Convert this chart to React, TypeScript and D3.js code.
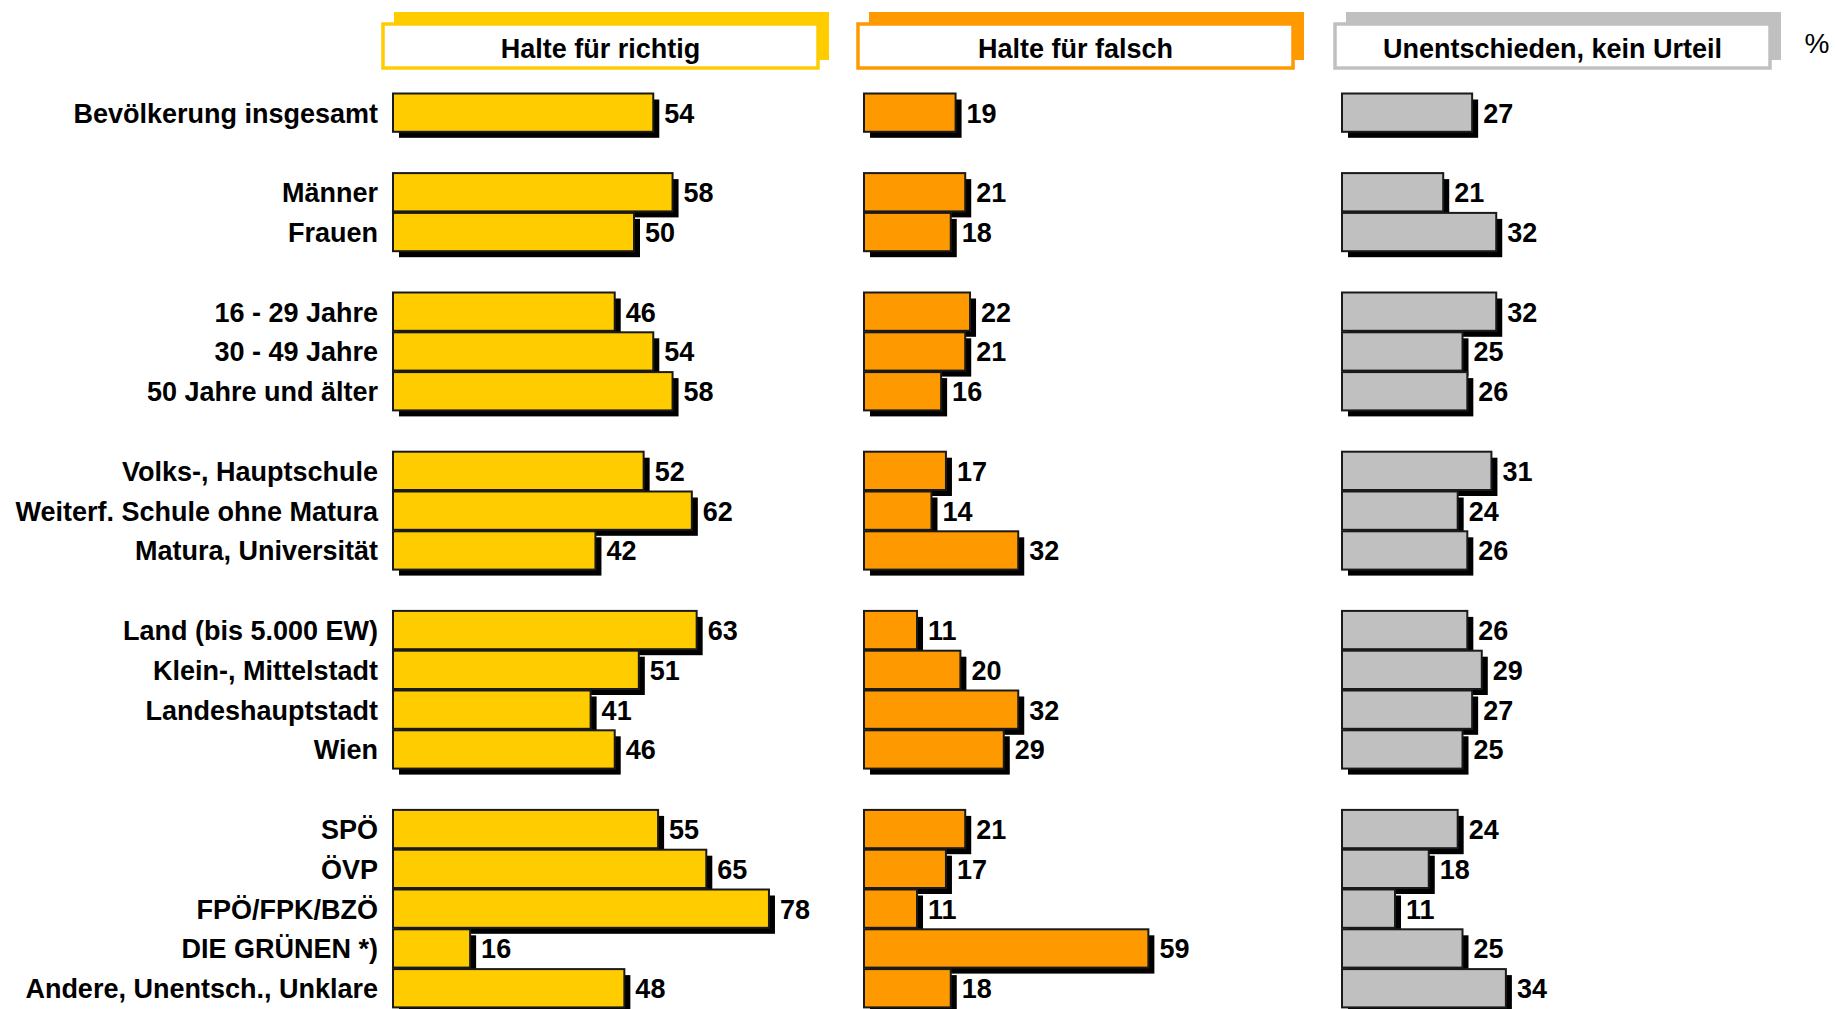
import React from "react";
import * as d3 from "d3";

const categories = [
  "Bevölkerung insgesamt",
  "Männer",
  "Frauen",
  "16 - 29 Jahre",
  "30 - 49 Jahre",
  "50 Jahre und älter",
  "Volks-, Hauptschule",
  "Weiterf. Schule ohne Matura",
  "Matura, Universität",
  "Land (bis 5.000 EW)",
  "Klein-, Mittelstadt",
  "Landeshauptstadt",
  "Wien",
  "SPÖ",
  "ÖVP",
  "FPÖ/FPK/BZÖ",
  "DIE GRÜNEN *)",
  "Andere, Unentsch., Unklare",
];
const groups = [0, 1, 1, 2, 2, 2, 3, 3, 3, 4, 4, 4, 4, 5, 5, 5, 5, 5];
const richtig = [54, 58, 50, 46, 54, 58, 52, 62, 42, 63, 51, 41, 46, 55, 65, 78, 16, 48];
const falsch = [19, 21, 18, 22, 21, 16, 17, 14, 32, 11, 20, 32, 29, 21, 17, 11, 59, 18];
const unentschieden = [27, 21, 32, 32, 25, 26, 31, 24, 26, 26, 29, 27, 25, 24, 18, 11, 25, 34];
const seriesNames = ["Halte für richtig", "Halte für falsch", "Unentschieden, kein Urteil"];
const seriesColors = ["#FFCC00", "#FF9900", "#C0C0C0"];
const unitLabel = "%";

const W = 1836;
const H = 1009;
const FONT = "'Liberation Sans', Arial, sans-serif";

export default function App() {
  const series = [richtig, falsch, unentschieden];
  const panelX = [393, 864, 1342];
  const headerX = [383, 858, 1335];
  const x = d3.scaleLinear().domain([0, 100]).range([0, 482]);
  const slots = categories.map((_, i) => i + groups[i]);
  const nSlots = d3.max(slots)! + 1;
  const y = d3
    .scaleBand<number>()
    .domain(d3.range(nSlots))
    .range([93, 93 + nSlots * 39.8])
    .paddingInner(0);
  const bh = y.bandwidth() - 1.5;
  const shadow = 6;
  const fs = 27;

  return (
    <svg
      width={W}
      height={H}
      style={{ position: "absolute", left: 0, top: 0, background: "#fff" }}
      fontFamily={FONT}
    >
      {/* headers */}
      {seriesNames.map((name, s) => {
        const bx = headerX[s];
        const bw = 435;
        return (
          <g key={name}>
            <rect x={bx + 11} y={12} width={bw} height={48} fill={seriesColors[s]} />
            <rect
              x={bx}
              y={24}
              width={bw}
              height={44}
              fill="#fff"
              stroke={seriesColors[s]}
              strokeWidth={3.5}
            />
            <text
              x={bx + bw / 2}
              y={48}
              dy="0.36em"
              textAnchor="middle"
              fontWeight="bold"
              fontSize={fs}
              fill="#000"
            >
              {name}
            </text>
          </g>
        );
      })}
      <text x={1817} y={43} dy="0.36em" textAnchor="middle" fontSize={28} fill="#000">
        {unitLabel}
      </text>

      {/* category labels */}
      {categories.map((c, i) => (
        <text
          key={c}
          x={378}
          y={y(slots[i])! + y.bandwidth() / 2}
          dy="0.36em"
          textAnchor="end"
          fontWeight="bold"
          fontSize={fs}
          fill="#000"
        >
          {c}
        </text>
      ))}

      {/* bars */}
      {series.map((vals, s) => (
        <g key={s} transform={`translate(${panelX[s]},0)`}>
          {vals.map((v, i) => {
            const yy = y(slots[i])! + 0.5;
            const w = x(v);
            return (
              <g key={i}>
                <rect x={shadow} y={yy + shadow} width={w} height={bh} fill="#000" />
                <rect
                  x={0}
                  y={yy}
                  width={w}
                  height={bh}
                  fill={seriesColors[s]}
                  stroke="#1a1a1a"
                  strokeWidth={2}
                />
              </g>
            );
          })}
          {vals.map((v, i) => (
            <text
              key={"t" + i}
              x={x(v) + shadow + 5}
              y={y(slots[i])! + y.bandwidth() / 2}
              dy="0.36em"
              fontWeight="bold"
              fontSize={fs}
              fill="#000"
            >
              {v}
            </text>
          ))}
        </g>
      ))}
    </svg>
  );
}
